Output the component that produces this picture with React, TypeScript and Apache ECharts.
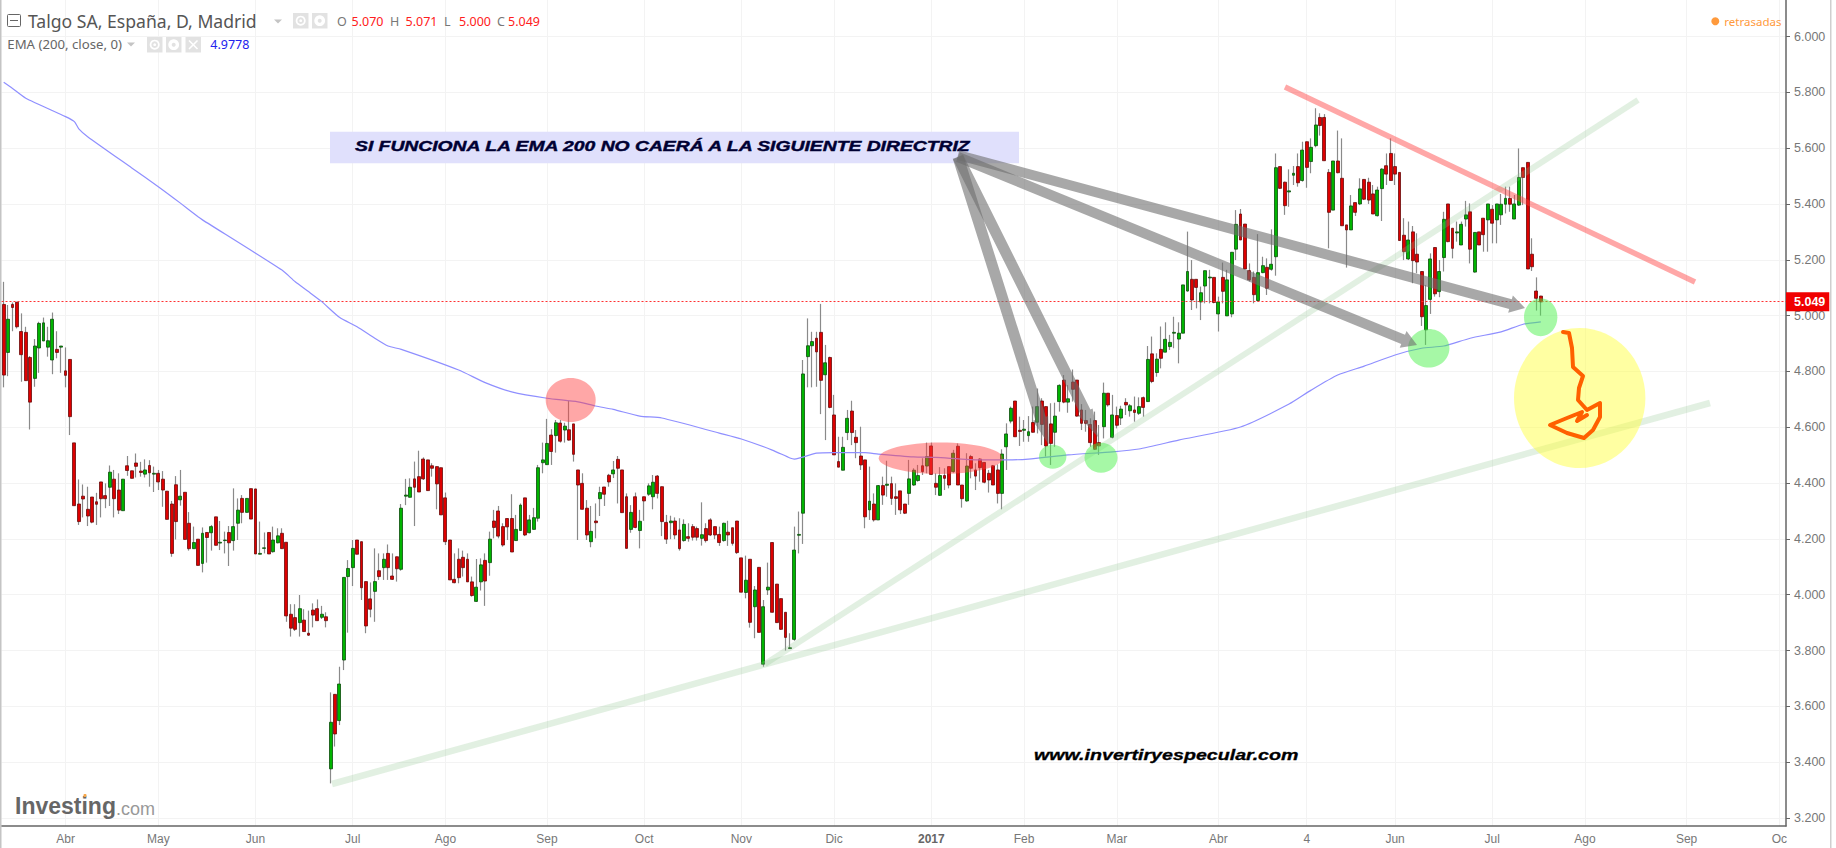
import React, { useEffect, useRef } from "react";
import * as echarts from "echarts";

// Candles as [open, close, low, high]
const candles2016Spring = [
[5.040,4.787,4.743,5.121],[4.868,4.987,4.783,5.038],[5.040,5.029,4.944,5.047],[5.048,4.960,4.954,5.048],[4.943,4.860,4.763,5.008],
[4.940,4.767,4.767,4.960],[4.850,4.690,4.592,4.855],[4.775,4.891,4.745,4.916],[4.884,4.972,4.795,4.978],[4.909,4.974,4.909,4.993],
[4.887,4.910,4.853,4.960],[4.841,4.987,4.790,5.011],[4.879,4.868,4.847,4.944],[4.887,4.891,4.795,4.891],[4.802,4.786,4.743,4.886],
[4.843,4.638,4.572,4.843],[4.544,4.319,4.319,4.544],[4.325,4.262,4.250,4.413],[4.353,4.343,4.277,4.395],[4.306,4.282,4.246,4.387],
[4.350,4.260,4.256,4.350],[4.333,4.324,4.250,4.365],[4.404,4.344,4.277,4.404],[4.355,4.344,4.310,4.399],[4.385,4.439,4.318,4.463],
[4.414,4.344,4.277,4.447],[4.375,4.303,4.289,4.435],[4.301,4.414,4.301,4.414],[4.462,4.445,4.426,4.497],[4.444,4.417,4.417,4.444],
[4.472,4.460,4.420,4.506],[4.443,4.438,4.423,4.476],[4.432,4.447,4.420,4.485],[4.463,4.437,4.387,4.482],[4.432,4.435,4.368,4.459],
[4.435,4.404,4.375,4.447],[4.414,4.375,4.315,4.443],[4.371,4.270,4.270,4.371],[4.325,4.148,4.136,4.336],[4.394,4.262,4.198,4.425],
[4.340,4.353,4.319,4.447],
];
const candles2016Summer = [
[4.367,4.198,4.198,4.367],[4.256,4.165,4.158,4.296],[4.165,4.187,4.165,4.244],[4.199,4.105,4.105,4.199],[4.112,4.220,4.080,4.241],
[4.223,4.205,4.115,4.223],[4.222,4.244,4.158,4.250],[4.279,4.177,4.177,4.279],[4.185,4.188,4.160,4.264],[4.194,4.196,4.148,4.226],
[4.223,4.186,4.103,4.246],[4.194,4.244,4.158,4.381],[4.256,4.303,4.196,4.345],[4.345,4.295,4.256,4.357],[4.295,4.345,4.295,4.345],
[4.380,4.271,4.271,4.380],[4.379,4.146,4.146,4.379],[4.145,4.148,4.145,4.262],[4.166,4.168,4.148,4.223],[4.223,4.146,4.146,4.223],
[4.154,4.196,4.151,4.244],[4.186,4.211,4.184,4.238],[4.220,4.165,4.165,4.238],[4.188,3.924,3.903,4.188],[3.930,3.880,3.850,3.966],
[3.918,3.876,3.870,3.966],[3.900,3.950,3.850,3.999],[3.909,3.868,3.868,3.948],[3.862,3.855,3.852,3.943],[3.945,3.927,3.883,3.969],
[3.950,3.907,3.907,3.983],[3.919,3.930,3.913,3.960],[3.921,3.907,3.883,3.937],[3.376,3.543,3.324,3.650],[3.643,3.501,3.456,3.643],
[3.549,3.680,3.533,3.742],[3.766,4.062,3.730,4.062],[4.065,4.094,3.864,4.124],[4.097,4.166,4.031,4.196],[4.196,4.145,4.145,4.196],
[4.190,4.025,3.981,4.190],[4.047,3.888,3.862,4.047],[3.985,3.948,3.919,4.044],[4.012,4.047,3.903,4.166],[4.086,4.065,4.053,4.148],
[4.097,4.127,4.053,4.148],[4.148,4.097,4.053,4.180],[4.067,4.055,4.053,4.148],[4.136,4.093,4.047,4.136],
];
const candles2016Autumn = [
[4.091,4.310,4.086,4.325],[4.353,4.357,4.321,4.415],[4.349,4.385,4.349,4.417],[4.415,4.385,4.246,4.477],[4.423,4.368,4.368,4.516],
[4.486,4.415,4.411,4.492],[4.483,4.373,4.373,4.483],[4.462,4.453,4.423,4.471],[4.459,4.397,4.306,4.459],[4.455,4.286,4.286,4.455],
[4.347,4.190,4.178,4.366],[4.196,4.053,4.053,4.196],[4.055,4.043,4.041,4.148],[4.127,4.061,4.041,4.166],[4.134,4.097,4.065,4.158],
[4.127,4.046,4.046,4.148],[4.046,3.997,3.993,4.065],[3.976,4.027,3.974,4.128],[4.046,4.107,4.015,4.130],[4.123,4.049,3.960,4.148],
[4.115,4.199,4.068,4.226],[4.264,4.241,4.202,4.304],[4.300,4.210,4.202,4.318],[4.244,4.178,4.172,4.256],[4.273,4.243,4.196,4.273],
[4.273,4.153,4.153,4.360],[4.194,4.234,4.194,4.286],[4.230,4.321,4.230,4.327],[4.347,4.214,4.210,4.347],[4.222,4.268,4.220,4.286],
[4.234,4.276,4.234,4.311],[4.274,4.455,4.262,4.465],[4.473,4.483,4.435,4.545],[4.466,4.542,4.466,4.630],[4.572,4.513,4.465,4.593],
[4.570,4.616,4.509,4.626],[4.615,4.550,4.545,4.626],[4.590,4.604,4.545,4.616],[4.591,4.554,4.552,4.695],[4.612,4.503,4.477,4.612],
[4.447,4.393,4.196,4.447],[4.399,4.306,4.306,4.435],[4.310,4.214,4.196,4.339],[4.190,4.227,4.170,4.318],[4.264,4.258,4.202,4.327],
[4.344,4.366,4.282,4.387],[4.386,4.360,4.318,4.386],[4.428,4.404,4.387,4.433],[4.433,4.447,4.418,4.479],[4.485,4.453,4.327,4.497],
[4.447,4.294,4.294,4.447],[4.351,4.166,4.166,4.363],[4.234,4.295,4.222,4.321],[4.351,4.241,4.238,4.366],[4.230,4.263,4.166,4.304],
[4.351,4.336,4.265,4.351],[4.360,4.390,4.354,4.399],[4.351,4.403,4.306,4.429],[4.425,4.363,4.345,4.429],[4.387,4.262,4.210,4.387],
[4.259,4.199,4.182,4.286],[4.258,4.264,4.199,4.283],[4.264,4.214,4.199,4.277],[4.232,4.165,4.158,4.274],[4.194,4.252,4.190,4.270],
[4.208,4.202,4.190,4.256],[4.244,4.206,4.194,4.253],[4.237,4.206,4.194,4.244],[4.202,4.215,4.176,4.331],[4.237,4.194,4.187,4.256],
[4.268,4.214,4.210,4.274],[4.244,4.214,4.199,4.244],[4.216,4.187,4.175,4.244],[4.194,4.256,4.190,4.258],[4.224,4.214,4.175,4.265],
[4.240,4.184,4.176,4.240],[4.264,4.151,4.146,4.264],[4.132,4.009,4.009,4.132],[4.008,4.052,3.987,4.140],[4.127,3.901,3.882,4.127],
[3.957,4.017,3.844,4.031],[4.098,3.865,3.865,4.098],[3.751,3.957,3.742,3.981],[4.017,4.027,3.999,4.115],[4.187,3.937,3.937,4.187],
[4.038,3.900,3.900,4.038],[3.986,3.876,3.874,3.986],[3.937,3.847,3.800,3.937],[3.807,3.810,3.807,3.862],[3.840,4.160,3.835,4.244],
];
const candlesWinter = [
[4.213,4.216,4.148,4.298],[4.292,4.791,4.182,4.841],[4.853,4.892,4.743,4.990],[4.892,4.907,4.743,4.942],[4.919,4.870,4.745,4.942],
[4.940,4.768,4.647,5.042],[4.788,4.831,4.554,4.895],[4.850,4.671,4.668,4.853],[4.644,4.501,4.501,4.716],[4.477,4.457,4.457,4.566],
[4.446,4.528,4.446,4.566],[4.581,4.632,4.554,4.662],[4.658,4.581,4.536,4.695],[4.564,4.545,4.489,4.590],[4.497,4.465,4.447,4.602],
[4.483,4.279,4.238,4.483],[4.304,4.335,4.268,4.459],[4.325,4.268,4.262,4.363],[4.268,4.391,4.268,4.393],[4.391,4.357,4.322,4.423],
[4.392,4.396,4.351,4.480],[4.398,4.345,4.322,4.423],[4.351,4.345,4.286,4.399],[4.372,4.304,4.289,4.372],[4.325,4.292,4.289,4.325],
[4.363,4.415,4.322,4.483],[4.393,4.446,4.390,4.453],[4.409,4.427,4.405,4.465],[4.462,4.441,4.429,4.489],[4.461,4.495,4.435,4.545],
[4.533,4.431,4.431,4.545],[4.399,4.385,4.357,4.435],[4.356,4.427,4.354,4.457],[4.427,4.417,4.375,4.453],[4.459,4.393,4.381,4.459],
[4.441,4.507,4.437,4.519],[4.532,4.393,4.393,4.542],[4.393,4.344,4.312,4.393],[4.336,4.461,4.333,4.507],[4.495,4.453,4.417,4.501],
[4.447,4.425,4.375,4.471],[4.486,4.455,4.405,4.489],[4.474,4.403,4.399,4.474],[4.435,4.411,4.366,4.447],[4.462,4.393,4.393,4.465],
[4.447,4.363,4.327,4.467],[4.363,4.504,4.306,4.521],[4.530,4.576,4.447,4.614],[4.622,4.668,4.614,4.674],[4.694,4.566,4.566,4.694],
[4.589,4.585,4.533,4.638],[4.589,4.593,4.548,4.626],[4.570,4.584,4.548,4.640],[4.617,4.582,4.581,4.674],[4.618,4.674,4.578,4.739],
[4.694,4.610,4.536,4.704],[4.674,4.533,4.495,4.674],[4.612,4.542,4.465,4.686],[4.582,4.640,4.530,4.688],[4.692,4.750,4.656,4.754],
[4.769,4.690,4.686,4.787],[4.690,4.702,4.652,4.751],[4.762,4.736,4.692,4.807],[4.769,4.640,4.638,4.769],[4.662,4.614,4.590,4.683],
[4.624,4.614,4.584,4.662],[4.610,4.545,4.530,4.632],[4.624,4.521,4.519,4.656],[4.545,4.533,4.501,4.608],[4.602,4.722,4.560,4.760],
[4.722,4.680,4.674,4.722],[4.564,4.644,4.560,4.716],[4.642,4.607,4.596,4.674],[4.633,4.665,4.608,4.677],[4.689,4.680,4.644,4.704],
[4.659,4.677,4.638,4.683],[4.662,4.653,4.620,4.710],[4.650,4.674,4.644,4.707],[4.706,4.671,4.638,4.710],[4.692,4.843,4.692,4.891],
];
const candlesSpring2017 = [
[4.863,4.764,4.758,4.925],[4.796,4.844,4.781,4.865],[4.879,4.847,4.811,4.961],[4.869,4.915,4.869,4.976],[4.889,4.904,4.877,4.931],
[4.937,4.940,4.883,4.996],[4.916,4.937,4.829,4.976],[4.937,5.110,4.937,5.110],[5.088,5.158,5.086,5.301],[5.130,5.056,5.020,5.199],
[5.130,5.101,5.026,5.130],[5.049,5.082,4.984,5.104],[5.106,5.161,5.044,5.161],[5.135,5.138,5.044,5.164],[5.137,5.047,5.044,5.137],
[5.006,5.049,4.943,5.068],[5.137,5.087,5.044,5.190],[4.999,5.128,4.999,5.164],[5.006,5.227,4.994,5.227],[5.238,5.327,5.199,5.378],
[5.364,5.271,5.271,5.382],[5.328,5.167,5.167,5.328],[5.161,5.128,5.122,5.187],[5.137,5.075,5.044,5.158],[5.054,5.154,5.050,5.292],
[5.154,5.179,5.152,5.211],[5.173,5.098,5.074,5.205],[5.166,5.184,5.161,5.309],[5.211,5.530,5.143,5.581],[5.534,5.456,5.454,5.534],
[5.478,5.394,5.361,5.480],[5.443,5.447,5.390,5.524],[5.503,5.510,5.468,5.536],[5.534,5.476,5.462,5.581],[5.484,5.593,5.480,5.623],
[5.623,5.531,5.458,5.623],[5.552,5.603,5.510,5.635],[5.609,5.683,5.603,5.743],[5.710,5.681,5.645,5.725],[5.710,5.555,5.555,5.722],
[5.513,5.370,5.241,5.525],[5.378,5.554,5.378,5.554],[5.554,5.512,5.510,5.663],[5.492,5.322,5.322,5.635],[5.325,5.307,5.172,5.325],
[5.307,5.393,5.307,5.432],[5.405,5.370,5.357,5.405],[5.400,5.454,5.396,5.492],[5.488,5.417,5.414,5.488],[5.478,5.414,5.400,5.494],
[5.436,5.364,5.364,5.468],[5.358,5.450,5.355,5.462],[5.455,5.525,5.339,5.528],[5.537,5.507,5.468,5.581],[5.581,5.484,5.484,5.635],
[5.534,5.507,5.468,5.581],[5.513,5.269,5.269,5.513],[5.288,5.229,5.199,5.349],[5.203,5.271,5.199,5.337],[5.300,5.197,5.116,5.321],
[5.220,5.192,5.152,5.295],[5.158,4.996,4.963,5.158],[4.949,5.036,4.895,5.110],[5.058,5.203,5.006,5.223],[5.244,5.078,5.068,5.244],
[5.086,5.158,5.066,5.199],[5.208,5.345,5.158,5.372],[5.400,5.265,5.263,5.400],[5.313,5.241,5.205,5.313],[5.296,5.300,5.265,5.337],
[5.253,5.327,5.253,5.337],[5.346,5.361,5.319,5.411],[5.372,5.238,5.187,5.402],[5.156,5.298,5.154,5.298],[5.300,5.253,5.253,5.300],
[5.349,5.290,5.229,5.349],[5.343,5.400,5.229,5.400],[5.381,5.331,5.259,5.396],[5.343,5.400,5.259,5.400],[5.361,5.399,5.325,5.436],
[5.399,5.420,5.366,5.462],[5.420,5.399,5.372,5.462],[5.346,5.400,5.346,5.432],[5.396,5.495,5.393,5.599],[5.530,5.495,5.396,5.530],
[5.549,5.167,5.167,5.549],[5.220,5.175,5.160,5.277],[5.088,5.062,5.018,5.137],[5.070,5.049,5.000,5.071],
];

// EMA (200) read at points along the curve: [bar index, value]
const emaPoints = [
[0,5.836],[2,5.814],[5,5.779],[14,5.713],[16,5.695],[17,5.669],[19,5.641],[29,5.529],[35,5.462],[40,5.403],[44,5.354],[45,5.343],
[63,5.163],[66,5.121],[69,5.086],[72,5.050],[76,4.994],[80,4.960],[84,4.919],[87,4.891],[90,4.879],[103,4.805],[109,4.760],[115,4.727],
[123,4.704],[130,4.691],[134,4.676],[138,4.664],[144,4.640],[149,4.633],[162,4.579],[167,4.558],[174,4.518],[178,4.490],[179,4.486],
[184,4.507],[188,4.509],[195,4.509],[198,4.504],[206,4.494],[211,4.492],[221,4.483],[227,4.483],[232,4.486],[241,4.501],[251,4.512],
[257,4.522],[266,4.554],[280,4.601],[291,4.683],[296,4.733],[302,4.787],[308,4.819],[315,4.859],[321,4.883],[326,4.891],[332,4.919],
[339,4.942],[344,4.969],[348,4.9778],
];

const lastClose = 5.049;
const priceTicks = [3.2, 3.4, 3.6, 3.8, 4.0, 4.2, 4.4, 4.6, 4.8, 5.0, 5.2, 5.4, 5.6, 5.8, 6.0];
const barSlots = 404;
const monthTickBars = [14, 35, 57, 79, 100, 123, 145, 167, 188, 210, 231, 252, 275, 295, 315, 337, 358, 381, 402];
const monthTickLabels = ["Abr", "May", "Jun", "Jul", "Ago", "Sep", "Oct", "Nov", "Dic", "2017", "Feb", "Mar", "Abr", "4", "Jun", "Jul", "Ago", "Sep", "Oc"];

const bannerText = "SI FUNCIONA LA EMA 200 NO CAERÁ A LA SIGUIENTE DIRECTRIZ";
const siteText = "www.invertiryespecular.com";

const scribble = [
  [1563, 332], [1569, 333], [1572, 348], [1573, 367], [1583, 376], [1579, 388], [1578, 400], [1587, 410], [1600, 403], [1600, 417],
  [1593, 430], [1584, 438], [1567, 433], [1550, 425], [1567, 418], [1582, 412], [1577, 421], [1587, 415],
];

function arrow(x0: number, y0: number, x1: number, y1: number, w: number, hw: number, hl: number) {
  const len = Math.hypot(x1 - x0, y1 - y0);
  const dx = (x1 - x0) / len, dy = (y1 - y0) / len;
  const nx = -dy, ny = dx;
  const bx = x1 - dx * hl, by = y1 - dy * hl;
  const points = [
    [x0 + nx * w / 2, y0 + ny * w / 2], [bx + nx * w / 2, by + ny * w / 2], [bx + nx * hw, by + ny * hw], [x1, y1],
    [bx - nx * hw, by - ny * hw], [bx - nx * w / 2, by - ny * w / 2], [x0 - nx * w / 2, y0 - ny * w / 2],
  ];
  return { type: "polygon", z: 20, shape: { points }, style: { fill: "rgba(110,110,110,0.6)" }, silent: true };
}
const trend = (x1: number, y1: number, x2: number, y2: number, stroke: string, lineWidth: number) => ({
  type: "line", z: 15, shape: { x1, y1, x2, y2 }, style: { stroke, lineWidth }, silent: true,
});
const blob = (cx: number, cy: number, rx: number, ry: number, fill: string) => ({
  type: "ellipse", z: 18, shape: { cx, cy, rx, ry }, style: { fill }, silent: true,
});
const label = (x: number, y: number, text: string, fill: string, font: string) => ({
  type: "text", z: 30, x, y, style: { text, fill, font, textVerticalAlign: "middle" }, silent: true,
});
const box = (x: number, y: number, w: number, h: number, fill: string, z = 25) => ({
  type: "rect", z, shape: { x, y, width: w, height: h }, style: { fill }, silent: true,
});
const caret = (x: number, y: number) => ({
  type: "polygon", z: 30, shape: { points: [[x - 4, y - 1.5], [x + 4, y - 1.5], [x, y + 2.5]] }, style: { fill: "#c4c4c4" }, silent: true,
});
const eye = (x: number, y: number) => [
  box(x, y, 15.5, 15.5, "#e2e2e2"),
  { type: "ring", z: 30, shape: { cx: x + 7.7, cy: y + 7.7, r: 5, r0: 3.3 }, style: { fill: "#fff" }, silent: true },
  { type: "circle", z: 30, shape: { cx: x + 7.7, cy: y + 7.7, r: 1.4 }, style: { fill: "#fff" }, silent: true },
];
const gear = (x: number, y: number) => [
  box(x, y, 15.5, 15.5, "#e2e2e2"),
  { type: "ring", z: 30, shape: { cx: x + 7.7, cy: y + 7.7, r: 5.4, r0: 2 }, style: { fill: "#fff" }, silent: true },
];

const ui = "'Noto Sans', sans-serif";

export default function App() {
  const ref = useRef<HTMLDivElement>(null);
  useEffect(() => {
    const chart = echarts.init(ref.current!, undefined, { renderer: "svg" });
    const candles = [...candles2016Spring, ...candles2016Summer, ...candles2016Autumn, ...candlesWinter, ...candlesSpring2017];
    const categories = Array.from({ length: barSlots }, (_, i) => String(i));
    const isMonthTick = (i: number) => monthTickBars.includes(i);

    chart.setOption({
      animation: false,
      backgroundColor: "#fff",
      grid: { left: 1.5, top: 0, right: 50, bottom: 22 },
      xAxis: {
        type: "category",
        data: categories,
        boundaryGap: true,
        axisLine: { lineStyle: { color: "#666", width: 1.5 } },
        axisTick: { alignWithLabel: true, interval: isMonthTick, length: 4, lineStyle: { color: "#666" } },
        axisLabel: {
          interval: isMonthTick,
          margin: 7,
          color: "#777",
          fontFamily: "'Liberation Sans', Arial, sans-serif",
          fontSize: 12,
          formatter: (v: string) => {
            const t = monthTickLabels[monthTickBars.indexOf(Number(v))] ?? "";
            return t === "2017" ? "{b|2017}" : t;
          },
          rich: { b: { fontWeight: "bold", color: "#666", fontSize: 12, fontFamily: "'Liberation Sans', Arial, sans-serif" } },
        },
        splitLine: { show: true, alignWithLabel: true, interval: isMonthTick, lineStyle: { color: "#f3f3f3", width: 1 } },
      },
      yAxis: {
        type: "value",
        position: "right",
        min: 3.1713,
        max: 6.1308,
        axisLine: { show: true, lineStyle: { color: "#666", width: 1.5 } },
        axisTick: { show: true, customValues: priceTicks, length: 4, lineStyle: { color: "#666" } },
        axisLabel: {
          customValues: priceTicks,
          margin: 8,
          color: "#777",
          fontFamily: "'Liberation Sans', Arial, sans-serif",
          fontSize: 12.5,
          padding: [2, 0, 0, 0],
          formatter: (v: number) => v.toFixed(3),
        },
        splitLine: { show: true, lineStyle: { color: "#f3f3f3", width: 1 } },
      },
      series: [
        {
          name: "Mechas",
          type: "candlestick",
          barWidth: 1,
          z: 3,
          data: candles,
          itemStyle: { color: "#8a8a8a", color0: "#8a8a8a", borderColor: "#8a8a8a", borderColor0: "#8a8a8a", borderWidth: 1.2 },
          silent: true,
        },
        {
          name: "Talgo SA",
          type: "candlestick",
          barWidth: 3.4,
          z: 4,
          data: candles.map(([o, c]) => [o, c, Math.min(o, c), Math.max(o, c)]),
          itemStyle: { color: "#00b400", color0: "#dd0000", borderColor: "#0b4d0b", borderColor0: "#6a0a0a", borderWidth: 0.8 },
          silent: true,
          markLine: {
            silent: true,
            symbol: "none",
            animation: false,
            lineStyle: { color: "#ff3030", type: [2, 2], width: 1 },
            label: {
              position: "end",
              distance: 0,
              formatter: lastClose.toFixed(3),
              backgroundColor: "#f00000",
              color: "#fff",
              fontWeight: "bold",
              fontFamily: "'Liberation Sans', Arial, sans-serif",
              fontSize: 12.5,
              padding: [3, 4, 3, 8],
            },
            data: [{ yAxis: lastClose }],
          },
        },
        {
          name: "EMA (200, close, 0)",
          type: "line",
          z: 5,
          data: emaPoints,
          symbol: "none",
          smooth: 0.2,
          lineStyle: { color: "#8f8fff", width: 1.2 },
          silent: true,
        },
      ],
      graphic: {
        elements: [
          box(0, 0, 1.5, 848, "#c4c4c4"),
          box(1830, 0, 1.5, 848, "#cfcfcf"),
          // trend lines
          trend(332, 784, 1710, 403, "rgba(140,195,140,0.25)", 6.5),
          trend(765, 664, 1638, 100, "rgba(140,195,140,0.25)", 6),
          trend(1285, 87, 1695, 282, "rgba(255,60,60,0.45)", 5.5),
          // ellipses
          blob(570.7, 400, 25, 22, "rgba(255,60,60,0.45)"),
          blob(940.7, 458.3, 62, 15.7, "rgba(255,60,60,0.45)"),
          blob(1052.7, 456.7, 13.7, 12, "rgba(70,240,70,0.48)"),
          blob(1101, 457.7, 16.5, 15, "rgba(70,240,70,0.48)"),
          blob(1428.7, 348.3, 20.7, 19.3, "rgba(70,240,70,0.48)"),
          blob(1540.7, 317.3, 16.7, 19, "rgba(70,240,70,0.48)"),
          blob(1579.7, 398, 65.7, 70, "rgba(255,255,60,0.48)"),
          // scribble
          { type: "polyline", z: 22, shape: { points: scribble }, style: { stroke: "#ff6000", lineWidth: 4, fill: "none", lineJoin: "round", lineCap: "round" }, silent: true },
          // banner
          box(330, 131.7, 689, 31.6, "#e0e0fc", 12),
          {
            type: "text", z: 16, x: 355, y: 146, scaleX: 1.38, silent: true,
            style: { text: bannerText, fill: "#000033", stroke: "#000033", lineWidth: 0.4, font: "italic bold 14px 'Liberation Sans', Arial, sans-serif", textVerticalAlign: "middle" },
          },
          {
            type: "text", z: 30, x: 1034, y: 755, scaleX: 1.31, silent: true,
            style: { text: siteText, fill: "#000", stroke: "#000", lineWidth: 0.3, font: "italic bold 15px 'Liberation Sans', Arial, sans-serif", textVerticalAlign: "middle" },
          },
          // arrows
          arrow(958, 155, 1525, 308, 10, 9, 15),
          arrow(958, 157, 1417, 345, 10, 9, 15),
          arrow(958, 157, 1049, 445, 11, 8, 28),
          arrow(958, 157, 1098, 437, 11, 8, 28),
          // header, row 1
          { type: "rect", z: 30, shape: { x: 7.5, y: 14.5, width: 13, height: 12, r: 1 }, style: { fill: "#fff", stroke: "#666", lineWidth: 1 }, silent: true },
          { type: "line", z: 30, shape: { x1: 10, y1: 20.5, x2: 18, y2: 20.5 }, style: { stroke: "#666", lineWidth: 1 }, silent: true },
          label(28, 21, "Talgo SA, España, D, Madrid", "#555", `17.6px ${ui}`),
          caret(278, 21),
          ...eye(293, 13),
          ...gear(312, 13),
          label(337, 21, "O", "#777", `12.5px ${ui}`),
          label(351.5, 21, "5.070", "#ff2020", `12.5px ${ui}`),
          label(390, 21, "H", "#777", `12.5px ${ui}`),
          label(405.5, 21, "5.071", "#ff2020", `12.5px ${ui}`),
          label(444, 21, "L", "#777", `12.5px ${ui}`),
          label(459, 21, "5.000", "#ff2020", `12.5px ${ui}`),
          label(497, 21, "C", "#777", `12.5px ${ui}`),
          label(508, 21, "5.049", "#ff2020", `12.5px ${ui}`),
          // header, row 2
          label(7.3, 44, "EMA (200, close, 0)", "#666", `13.2px ${ui}`),
          caret(131, 44),
          ...eye(147, 37),
          ...gear(166, 37),
          box(185.5, 37, 15.5, 15.5, "#e2e2e2"),
          { type: "line", z: 30, shape: { x1: 189, y1: 40.5, x2: 197.5, y2: 49 }, style: { stroke: "#fff", lineWidth: 1.6 }, silent: true },
          { type: "line", z: 30, shape: { x1: 197.5, y1: 40.5, x2: 189, y2: 49 }, style: { stroke: "#fff", lineWidth: 1.6 }, silent: true },
          label(210.3, 44, "4.9778", "#2222ee", `12.5px ${ui}`),
          // delayed marker
          { type: "circle", z: 30, shape: { cx: 1715.3, cy: 21.3, r: 4 }, style: { fill: "#ff9a3c" }, silent: true },
          label(1724.3, 21.3, "retrasadas", "#ff9a3c", `11.5px ${ui}`),
          // logo
          label(15, 806, "Investing", "#666", "bold 23px 'Liberation Sans', Arial, sans-serif"),
          label(116, 809, ".com", "#999", "18px 'Liberation Sans', Arial, sans-serif"),
          { type: "circle", z: 31, shape: { cx: 85, cy: 795.5, r: 1.6 }, style: { fill: "#f7a84a" }, silent: true },
        ],
      },
    });
    return () => chart.dispose();
  }, []);
  return <div ref={ref} style={{ position: "absolute", left: 0, top: 0, width: 1836, height: 848 }} />;
}
